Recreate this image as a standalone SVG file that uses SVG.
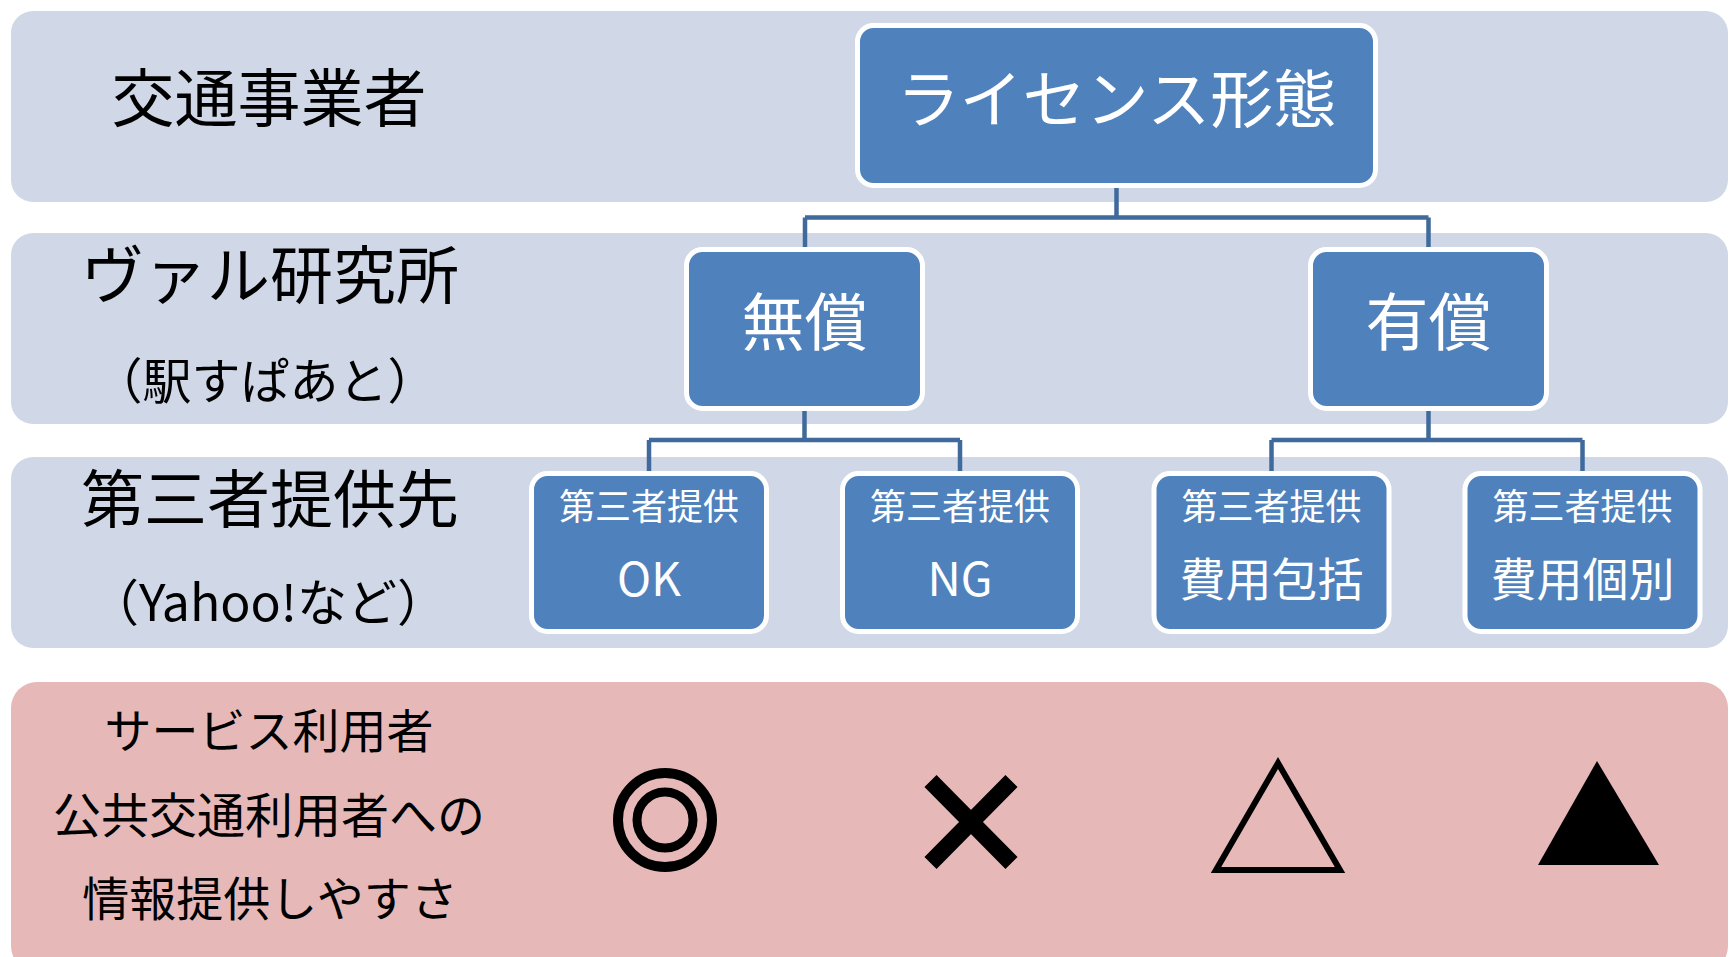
<svg xmlns="http://www.w3.org/2000/svg" width="1729" height="957" viewBox="0 0 1729 957">
<style>
.band{fill:#D0D8E8}
.pink{fill:#E6B9B8}
.node{fill:#4F81BD;stroke:#FFFFFF;stroke-width:5}
.conn{fill:none;stroke:#40699C;stroke-width:4.5}
text{font-family:"Noto Sans CJK JP","Noto Sans",sans-serif;dominant-baseline:central;text-anchor:middle}
.lbl{fill:#000000}
.wt{fill:#FFFFFF}
</style>
<rect width="1729" height="957" fill="#FFFFFF"/>
<g id="bands">
<rect class="band" x="11" y="11" width="1717" height="191" rx="22"/>
<rect class="band" x="11" y="233" width="1717" height="191" rx="22"/>
<rect class="band" x="11" y="457" width="1717" height="191" rx="22"/>
<rect class="pink" x="11" y="682" width="1717" height="290" rx="26"/>
</g>
<g id="row-labels">
<text class="lbl" x="269" y="93" font-size="63">交通事業者</text>
<text class="lbl" x="270" y="270" font-size="63">ヴァル研究所</text>
<text class="lbl" x="265" y="377" font-size="49">（駅すぱあと）</text>
<text class="lbl" x="270" y="494" font-size="63">第三者提供先</text>
<text class="lbl" x="268" y="599" font-size="50">（Yahoo!など）</text>
<text class="lbl" x="269" y="727" font-size="47">サービス利用者</text>
<text class="lbl" x="269" y="812" font-size="48">公共交通利用者への</text>
<text class="lbl" x="270" y="895" font-size="47">情報提供しやすさ</text>
</g>
<g id="connectors">
<path class="conn" d="M1116.5 186 V217.5 M805 217.5 H1428.5 M805 217.5 V249 M1428.5 217.5 V249"/>
<path class="conn" d="M804.5 409 V440 M649 440 H960 M649 440 V473 M960 440 V473"/>
<path class="conn" d="M1428.5 409 V440 M1271.5 440 H1582.5 M1271.5 440 V473 M1582.5 440 V473"/>
</g>
<g id="node-license">
<rect class="node" x="857.5" y="25.5" width="518" height="160" rx="16"/>
<text class="wt" x="1116.5" y="94" font-size="63">ライセンス形態</text>
</g>
<g id="node-free">
<rect class="node" x="686.5" y="249.5" width="236" height="159" rx="16"/>
<text class="wt" x="804.5" y="317" font-size="63">無償</text>
</g>
<g id="node-paid">
<rect class="node" x="1310.5" y="249.5" width="236" height="159" rx="16"/>
<text class="wt" x="1428.5" y="317" font-size="63">有償</text>
</g>
<g id="node-ok">
<rect class="node" x="531.5" y="473.5" width="235" height="158" rx="16"/>
<text class="wt" x="649" y="504" font-size="36">第三者提供</text>
<text class="wt" x="649" y="576" font-size="46">OK</text>
</g>
<g id="node-ng">
<rect class="node" x="842.5" y="473.5" width="235" height="158" rx="16"/>
<text class="wt" x="960" y="504" font-size="36">第三者提供</text>
<text class="wt" x="960" y="576" font-size="46">NG</text>
</g>
<g id="node-bundle">
<rect class="node" x="1154" y="473.5" width="235" height="158" rx="16"/>
<text class="wt" x="1271.5" y="504" font-size="36">第三者提供</text>
<text class="wt" x="1271.5" y="576" font-size="46">費用包括</text>
</g>
<g id="node-individual">
<rect class="node" x="1465" y="473.5" width="235" height="158" rx="16"/>
<text class="wt" x="1582.5" y="504" font-size="36">第三者提供</text>
<text class="wt" x="1582.5" y="576" font-size="46">費用個別</text>
</g>
<g id="symbols">
<circle cx="665" cy="820" r="47" fill="none" stroke="#000" stroke-width="10"/>
<circle cx="665" cy="820" r="28" fill="none" stroke="#000" stroke-width="9"/>
<path d="M930.5 781 L1011.5 863 M1011.5 781 L930.5 863" stroke="#000" stroke-width="17" fill="none"/>
<polygon points="1278,763 1216,870 1340,870" fill="none" stroke="#000" stroke-width="6"/>
<polygon points="1597,761 1538,865 1659,865" fill="#000"/>
</g>
</svg>
